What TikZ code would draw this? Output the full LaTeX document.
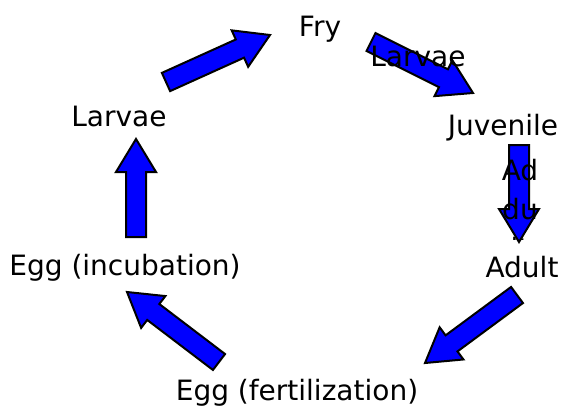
\documentclass[tikz,border=0pt]{standalone}
\usepackage{fontspec}
\setmainfont{DejaVu Sans}
\usetikzlibrary{calc}

\tikzset{
  stage/.style={anchor=base, inner sep=0pt, font=\fontsize{28}{39}\selectfont},
  blockarrow/.style={fill={rgb,255:red,0;green,0;blue,255}, draw=black, line width=2pt, line join=miter}
}

% block arrow from tail (#1) to tip (#2)
\newcommand{\blockarrow}[2]{%
  \coordinate (bh) at ($(#2)!33pt!(#1)$);
  \draw[blockarrow] ($(#1)!10pt!90:(#2)$) -- ($(bh)!10pt!-90:(#1)$)
    -- ($(bh)!20pt!-90:(#1)$) -- (#2) -- ($(bh)!20pt!90:(#1)$)
    -- ($(bh)!10pt!90:(#1)$) -- ($(#1)!10pt!-90:(#2)$) -- cycle;}

\begin{document}
\begin{tikzpicture}[x=1pt, y=-1pt]
    \useasboundingbox (0,0) rectangle (580,409);

    % 1. Arrow ends
    \coordinate (a1s) at (166,82);  \coordinate (a1e) at (270,35);
    \coordinate (a2s) at (371,42);  \coordinate (a2e) at (473,93);
    \coordinate (a3s) at (519,145); \coordinate (a3e) at (519,242);
    \coordinate (a4s) at (517,295); \coordinate (a4e) at (425,363);
    \coordinate (a5s) at (219,362); \coordinate (a5e) at (127,292);
    \coordinate (a6s) at (136,237); \coordinate (a6e) at (136,139);

    % 2. Block arrows of the cycle
    \blockarrow{a1s}{a1e}
    \blockarrow{a2s}{a2e}
    \blockarrow{a3s}{a3e}
    \blockarrow{a4s}{a4e}
    \blockarrow{a5s}{a5e}
    \blockarrow{a6s}{a6e}

    % 3. Stages
    \node[stage] (fry)   at (320,37)  {Fry};
    \node[stage] (juv)   at (503,135) {Juvenile};
    \node[stage] (adult) at (522,277) {Adult};
    \node[stage] (eggf)  at (297,400) {Egg (fertilization)};
    \node[stage] (eggi)  at (125,275) {Egg (incubation)};
    \node[stage] (larv)  at (119,126) {Larvae};

    % 4. Labels lying on the arrows
    \node[stage] (larvlab) at (418,67) {Larvae};
    \begin{scope}
        \clip (490,150) rectangle (550,239);
        \node[stage, align=center] (adlab) at (520,258) {Ad\\du\\lt};
    \end{scope}
\end{tikzpicture}
\end{document}
